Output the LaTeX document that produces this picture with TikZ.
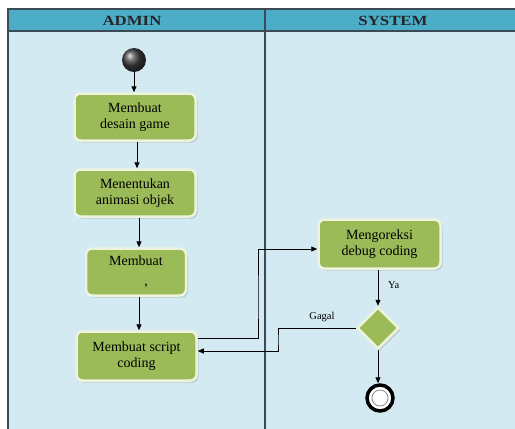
\documentclass[tikz,border=0pt]{standalone}
\usepackage{fontspec}
\setmainfont{Liberation Serif}
\newfontfamily\hdrfont[FakeStretch=1.2]{Liberation Serif}
\usetikzlibrary{shapes.geometric,arrows.meta,shadows,calc}
\definecolor{lanebg}{HTML}{D3EAF2}
\definecolor{hdr}{HTML}{4BADC8}
\definecolor{act}{HTML}{9BBB59}
\definecolor{actborder}{HTML}{EEF3DD}
\definecolor{framecol}{HTML}{3C4A55}
\begin{document}
\begin{tikzpicture}[x=1pt,y=-1pt,
  actbox/.style={rectangle, rounded corners=6pt, fill=act, draw=actborder,
    line width=2.5pt, align=center, font=\fontsize{14}{16}\selectfont,
    inner sep=2pt, drop shadow={shadow xshift=2pt,shadow yshift=-2pt,opacity=0.3}},
  decision/.style={diamond, aspect=1, fill=act, draw=actborder, line width=2.5pt,
    minimum size=42pt, inner sep=0pt,
    drop shadow={shadow xshift=2pt,shadow yshift=-2pt,opacity=0.3}},
  startnode/.style={circle, minimum size=24pt, inner sep=0pt, shading=ball, ball color=black!75},
  endnode/.style={circle, minimum size=26pt, inner sep=0pt, draw=black, line width=3.5pt, fill=white},
  arr/.style={line width=0.8pt, draw=black, -{Triangle[length=6pt,width=5pt]}},
  hdrtext/.style={font=\hdrfont\fontsize{14}{16}\selectfont\bfseries, text=black!85},
  small/.style={font=\fontsize{10.5}{12}\selectfont, inner sep=0pt}
]
\useasboundingbox (0,0) rectangle (515,429);
\fill[white] (0,0) rectangle (515,429);
% swimlane frame
\fill[lanebg] (8,9) rectangle (530,440);
\fill[hdr] (8,9) rectangle (530,31);
\draw[framecol, line width=1.5pt] (8,440) -- (8,9) -- (530,9);
\draw[framecol, line width=1.5pt] (8,31) -- (530,31);
\draw[framecol, line width=1.5pt] (265,9) -- (265,440);
\node[hdrtext] (ha) at (132,21) {ADMIN};
\node[hdrtext] (hs) at (393,21) {SYSTEM};

% nodes
\node[startnode] (start) at (134,60) {};
\node[actbox, minimum width=121pt, minimum height=47pt] (b1) at (135,117) {Membuat\\desain game};
\node[actbox, minimum width=121pt, minimum height=47pt] (b2) at (135,193) {Menentukan\\animasi objek};
\node[actbox, minimum width=100pt, minimum height=47pt] (b3) at (136,272) {Membuat\\[4pt]\hspace*{20pt},};
\node[actbox, minimum width=120pt, minimum height=49pt] (b4) at (136.5,356) {Membuat script\\coding};
\node[actbox, minimum width=122pt, minimum height=49pt] (m) at (379.5,244) {Mengoreksi\\debug coding};
\node[decision] (d) at (378,328) {};
\node[endnode] (end) at (380,398) {};
\draw[gray, line width=0.7pt] (end) circle (8pt);

% connectors
\draw[arr] (start.south) -- (start.south |- b1.north);
\draw[arr] ([xshift=2pt]b1.south) -- ([xshift=2pt]b1.south |- b2.north);
\draw[arr] ([xshift=4pt]b2.south) -- ([xshift=4pt]b2.south |- b3.north);
\draw[arr] ([xshift=3pt]b3.south) -- ([xshift=3pt]b3.south |- b4.north);
\coordinate (c1) at (258,300);
\draw[line width=0.8pt, -{Triangle[length=6pt,width=5pt]}] ([yshift=18pt]b4.east) -| (c1) |- ([yshift=-5pt]m.west);
\draw[arr] (d.north |- m.south) -- (d.north);
\node[small, anchor=west] (ya) at (388,285) {Ya};
\coordinate (c2) at (278,340);
\draw[line width=0.8pt, -{Triangle[length=6pt,width=5pt]}] (d.west) -| (c2) |- ([yshift=5pt]b4.east);
\node[small] (gagal) at (322,317) {Gagal};
\draw[arr] (d.south) -- (d.south |- end.north);
\end{tikzpicture}
\end{document}
